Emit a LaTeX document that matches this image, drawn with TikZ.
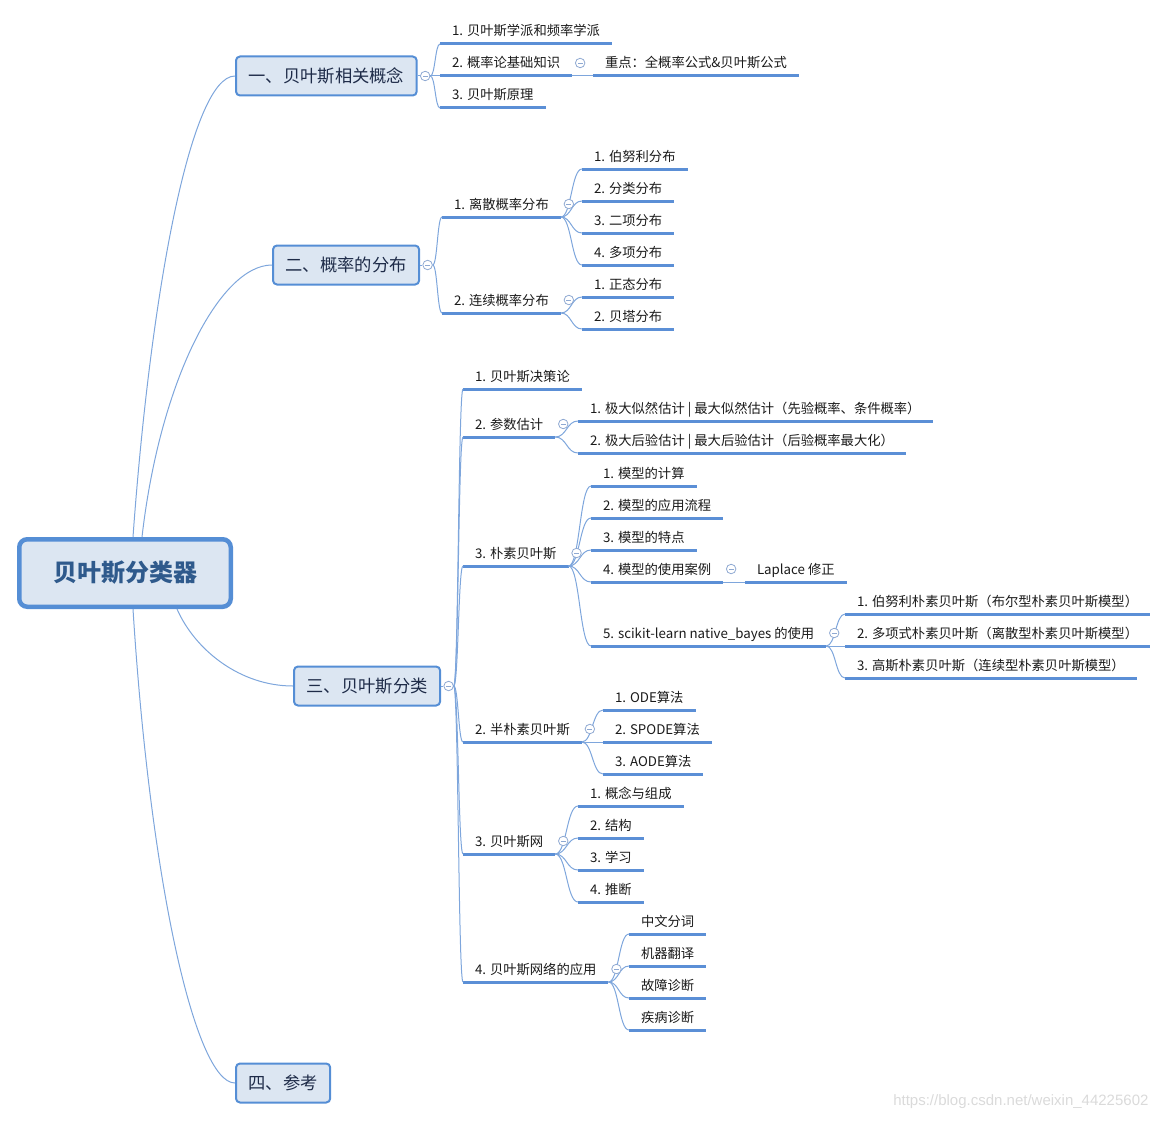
\documentclass[tikz,border=0pt]{standalone}
\usepackage{fontspec}
\setmainfont{Noto Sans CJK SC}
\newfontfamily\markfont{Liberation Sans}
\usetikzlibrary{calc}
\definecolor{boxfill}{HTML}{DCE6F2}
\definecolor{boxline}{HTML}{558ED5}
\definecolor{linkcol}{HTML}{7EA6DC}
\definecolor{ulcol}{HTML}{5B8FD6}
\definecolor{foldcol}{HTML}{8FA9D2}
\definecolor{roottext}{HTML}{2F5A8C}
\definecolor{maintext}{HTML}{1E2B48}
\definecolor{topictext}{HTML}{1A1A1A}
\definecolor{marktext}{HTML}{DADADA}
\tikzset{
  rootbox/.style={draw=boxline, line width=4.5pt, fill=boxfill, rounded corners=8pt,
    minimum width=211.5pt, minimum height=67.5pt, text=roottext,
    font=\fontsize{24}{28}\selectfont\bfseries},
  mainbox/.style={draw=boxline, line width=2pt, fill=boxfill, rounded corners=4pt,
    minimum height=39pt, inner xsep=12.5pt, anchor=west, text=maintext,
    font=\fontsize{17.3}{20}\selectfont},
  topic/.style={anchor=south west, inner xsep=12pt, inner ysep=4pt, outer sep=0pt,
    text height=10pt, text depth=4pt, text=topictext, font=\fontsize{13.3}{16}\selectfont},
  uline/.style={draw=ulcol, line width=3pt},
  link/.style={draw=linkcol, line width=1pt},
  fold/.style={circle, draw=foldcol, fill=white, line width=0.8pt, minimum size=9.5pt, inner sep=0pt,
    path picture={\draw[foldcol, line width=0.8pt] ([xshift=-2.4pt]path picture bounding box.center)
      -- ([xshift=2.4pt]path picture bounding box.center);}},
  branch/.style={to path={.. controls ($(\tikztostart)!.5!(\tikztotarget|-\tikztostart)$)
    and ($(\tikztotarget)!.5!(\tikztostart|-\tikztotarget)$) .. (\tikztotarget)}}
}

\begin{document}
\begin{tikzpicture}[x=1pt, y=-1pt]
  \useasboundingbox (0,0) rectangle (1161,1121);

  % ---------- root and the four main topics ----------
  \node[rootbox] (root) at (125,573) {贝叶斯分类器};
  \node[mainbox] (n1) at (235,76) {一、贝叶斯相关概念};
  \node[mainbox] (n2) at (272,265) {二、概率的分布};
  \node[mainbox] (n3) at (293,686) {三、贝叶斯分类};
  \node[mainbox] (n4) at (235,1083) {四、参考};

  \draw[link] ([xshift=8pt]root.north) .. controls (150,300) and (190,76) .. (n1.west);
  \draw[link] ([xshift=17pt]root.north) .. controls (160,380) and (220,265) .. (n2.west);
  \draw[link] ([xshift=52pt]root.south) .. controls (195,650) and (240,686) .. (n3.west);
  \draw[link] ([xshift=8pt]root.south) .. controls (150,880) and (195,1083) .. (n4.west);

  \node[fold] (f1) at ($(n1.east)+(7.5,0)$) {};
  \node[fold] (f2) at ($(n2.east)+(7.5,0)$) {};
  \node[fold] (f3) at ($(n3.east)+(7.5,0)$) {};
  \draw[link] (n1.east) -- (f1.west);
  \draw[link] (n2.east) -- (f2.west);
  \draw[link] (n3.east) -- (f3.west);

  % ---------- 一、贝叶斯相关概念 ----------
  \node[topic] (c11) at (440,44) {1. 贝叶斯学派和频率学派};
  \node[topic] (c12) at (440,76) {2. 概率论基础知识};
  \node[topic] (c13) at (440,108) {3. 贝叶斯原理};
  \node[topic] (c121) at (593,76) {重点：全概率公式\&贝叶斯公式};

  % ---------- 二、概率的分布 ----------
  \node[topic] (c21) at (442,217) {1. 离散概率分布};
  \node[topic] (c22) at (442,313) {2. 连续概率分布};
  \node[topic] (c211) at (582,169) {1. 伯努利分布};
  \node[topic] (c212) at (582,201) {2. 分类分布};
  \node[topic] (c213) at (582,233) {3. 二项分布};
  \node[topic] (c214) at (582,265) {4. 多项分布};
  \node[topic] (c221) at (582,297) {1. 正态分布};
  \node[topic] (c222) at (582,329) {2. 贝塔分布};

  % ---------- 三、贝叶斯分类 ----------
  \node[topic] (c31) at (463,389) {1. 贝叶斯决策论};
  \node[topic] (c32) at (463,437) {2. 参数估计};
  \node[topic] (c33) at (463,566) {3. 朴素贝叶斯};
  \node[topic] (c34) at (463,742) {2. 半朴素贝叶斯};
  \node[topic] (c35) at (463,854) {3. 贝叶斯网};
  \node[topic] (c36) at (463,982) {4. 贝叶斯网络的应用};

  \node[topic] (c321) at (578,421) {1. 极大似然估计 | 最大似然估计（先验概率、条件概率）};
  \node[topic] (c322) at (578,453) {2. 极大后验估计 | 最大后验估计（后验概率最大化）};

  \node[topic] (c331) at (591,486) {1. 模型的计算};
  \node[topic] (c332) at (591,518) {2. 模型的应用流程};
  \node[topic] (c333) at (591,550) {3. 模型的特点};
  \node[topic] (c334) at (591,582) {4. 模型的使用案例};
  \node[topic] (c335) at (591,646) {5. scikit-learn native\_bayes 的使用};
  \node[topic] (c3341) at (745,582) {Laplace 修正};
  \node[topic] (c3351) at (845,614) {1. 伯努利朴素贝叶斯（布尔型朴素贝叶斯模型）};
  \node[topic] (c3352) at (845,646) {2. 多项式朴素贝叶斯（离散型朴素贝叶斯模型）};
  \node[topic] (c3353) at (845,678) {3. 高斯朴素贝叶斯（连续型朴素贝叶斯模型）};

  \node[topic] (c341) at (603,710) {1. ODE算法};
  \node[topic] (c342) at (603,742) {2. SPODE算法};
  \node[topic] (c343) at (603,774) {3. AODE算法};

  \node[topic] (c351) at (578,806) {1. 概念与组成};
  \node[topic] (c352) at (578,838) {2. 结构};
  \node[topic] (c353) at (578,870) {3. 学习};
  \node[topic] (c354) at (578,902) {4. 推断};

  \node[topic] (c361) at (629,934) {中文分词};
  \node[topic] (c362) at (629,966) {机器翻译};
  \node[topic] (c363) at (629,998) {故障诊断};
  \node[topic] (c364) at (629,1030) {疾病诊断};

  % underlines under every topic
  \foreach \t in {c11,c12,c13,c121,c21,c22,c211,c212,c213,c214,c221,c222,
                  c31,c32,c33,c34,c35,c36,c321,c322,c331,c332,c333,c334,c335,c3341,
                  c3351,c3352,c3353,c341,c342,c343,c351,c352,c353,c354,c361,c362,c363,c364}
    \draw[uline] (\t.south west) -- (\t.south east);

  % ---------- connectors ----------
  \foreach \a/\b in {f1.east/c11, f1.east/c12, f1.east/c13, c12.south east/c121,
                     f2.east/c21, f2.east/c22,
                     c21.south east/c211, c21.south east/c212, c21.south east/c213, c21.south east/c214,
                     c22.south east/c221, c22.south east/c222,
                     f3.east/c31, f3.east/c32, f3.east/c33, f3.east/c34, f3.east/c35, f3.east/c36,
                     c32.south east/c321, c32.south east/c322,
                     c33.south east/c331, c33.south east/c332, c33.south east/c333,
                     c33.south east/c334, c33.south east/c335,
                     c334.south east/c3341,
                     c335.south east/c3351, c335.south east/c3352, c335.south east/c3353,
                     c34.south east/c341, c34.south east/c342, c34.south east/c343,
                     c35.south east/c351, c35.south east/c352, c35.south east/c353, c35.south east/c354,
                     c36.south east/c361, c36.south east/c362, c36.south east/c363, c36.south east/c364}
    \draw[link] (\a) to[branch] (\b.south west);

  % collapse marks beside the topics that have children
  \foreach \t in {c12,c21,c22,c32,c33,c334,c335,c34,c35,c36}
    \node[fold] (f\t) at ($(\t.south east)+(8,-13)$) {};

  \node[font=\markfont\fontsize{15}{18}\selectfont, text=marktext, anchor=east] (mark) at (1152,1102)
       {https://blog.csdn.net/weixin\_44225602};

\end{tikzpicture}
\end{document}
